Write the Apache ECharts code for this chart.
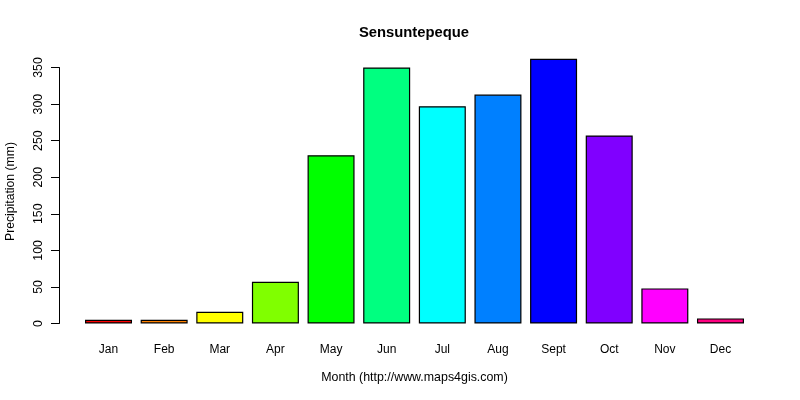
<!DOCTYPE html>
<html><head><meta charset="utf-8">
<style>html,body{margin:0;padding:0;background:#fff}#c{width:800px;height:400px}</style>
<script src="https://cdn.jsdelivr.net/npm/echarts@6/dist/echarts.min.js"></script>
</head><body><div id="c"></div>
<script>
const months = ['Jan','Feb','Mar','Apr','May','Jun','Jul','Aug','Sept','Oct','Nov','Dec'];
const precipitation = [5,5,16,57,230,350,297,313,362,257,48,7];
const barColors = ['#FF0000','#FF8000','#FFFF00','#80FF00','#00FF00','#00FF80','#00FFFF','#0080FF','#0000FF','#8000FF','#FF00FF','#FF0080'];
const yTicks = [0,50,100,150,200,250,300,350];
const font = 'Liberation Sans, Arial, sans-serif';
const chart = echarts.init(document.getElementById('c'), null, {renderer:'canvas'});
chart.setOption({
  animation:false,
  backgroundColor:'#fff',
  title:{text:'Sensuntepeque',left:409,top:20,textAlign:'center',textStyle:{fontFamily:font,fontSize:14.8,fontWeight:'bold',color:'#000'}},
  grid:{left:80.7,right:51.7,top:67.5,bottom:76.5,containLabel:false,outerBoundsMode:'none'},
  xAxis:{type:'category',data:months,name:'Month (http://www.maps4gis.com)',nameLocation:'middle',nameGap:48,
    nameTextStyle:{fontFamily:font,fontSize:12.4,color:'#000'},
    axisLine:{show:false},axisTick:{show:false},
    axisLabel:{fontFamily:font,fontSize:12,color:'#000',margin:20,interval:0}},
  yAxis:{type:'value',min:0,max:350,interval:50,offset:21.7,splitLine:{show:false},
    name:'Precipitation (mm)',nameLocation:'middle',nameGap:42,
    nameTextStyle:{fontFamily:font,fontSize:12.2,color:'#000',padding:[0,0,0,8]},
    axisLine:{show:true,lineStyle:{color:'#000',width:1}},
    axisTick:{show:true,length:8,lineStyle:{color:'#000',width:1}},
    axisLabel:{fontFamily:font,fontSize:12.4,color:'#000',rotate:90,margin:14,
      formatter:v=>yTicks.includes(v)?String(v):''}},
  series:[{type:'bar',clip:false,barWidth:47,
    data:precipitation.map((v,i)=>({value:v,itemStyle:{color:barColors[i]}})),
    itemStyle:{borderColor:'#000',borderWidth:1.2}}]
});
</script></body></html>
